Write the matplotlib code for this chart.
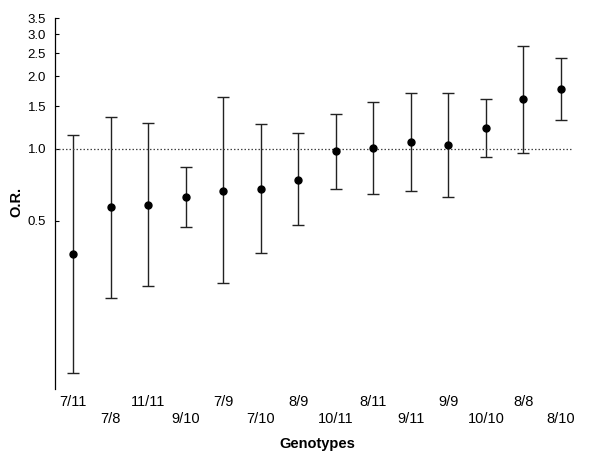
import matplotlib
matplotlib.use("Agg")
import matplotlib.pyplot as plt
import numpy as np

plt.rcParams['font.family'] = ['Liberation Sans', 'DejaVu Sans']

genotypes = ["7/11", "7/8", "11/11", "9/10", "7/9", "7/10", "8/9",
             "10/11", "8/11", "9/11", "9/9", "10/10", "8/8", "8/10"]
odds_ratio = [0.363, 0.571, 0.585, 0.630, 0.669, 0.676, 0.741,
              0.975, 1.006, 1.066, 1.039, 1.219, 1.603, 1.769]
ci_lower = [0.116, 0.238, 0.267, 0.474, 0.275, 0.366, 0.479,
            0.680, 0.648, 0.667, 0.632, 0.926, 0.960, 1.320]
ci_upper = [1.14, 1.36, 1.285, 0.839, 1.639, 1.262, 1.158,
            1.393, 1.567, 1.708, 1.713, 1.613, 2.686, 2.38]
ytick_vals = [0.5, 1.0, 1.5, 2.0, 2.5, 3.0, 3.5]

W, H = 600, 469
ax_left, ax_right, ax_top, ax_bottom = 54.5, 579.75, 18, 388.8
fig = plt.figure(figsize=(W/100, H/100), dpi=100)
ax = fig.add_axes([ax_left/W, 1-ax_bottom/H, (ax_right-ax_left)/W, (ax_bottom-ax_top)/H])

x = np.arange(len(genotypes))
y = np.array(odds_ratio)
yerr = np.array([y - np.array(ci_lower), np.array(ci_upper) - y])

ax.set_yscale('log')
ax.errorbar(x, y, yerr=yerr, fmt='o', color='black', ecolor='#222222',
            elinewidth=1.0, capsize=4.2, capthick=1.0, markersize=5)
ax.hlines(1.0, -0.5, 13.33, colors='#444444', linestyles=(0, (1.2, 1.6)), linewidth=0.9)

ax.set_ylim(0.1, 3.5)
ax.set_xlim(-0.5, 13.5)
ax.set_yticks(ytick_vals)
ax.set_yticklabels([f"{v:.1f}" for v in ytick_vals])
ax.yaxis.set_minor_locator(matplotlib.ticker.NullLocator())
ax.tick_params(axis='y', direction='in', length=3, width=0.8, labelsize=9.5, pad=6)

ax.set_xticks(x)
ax.set_xticklabels(genotypes)
ax.tick_params(axis='x', length=0, labelsize=10.5, pad=4.7)
for i, t in enumerate(ax.xaxis.get_major_ticks()):
    if i % 2 == 1:
        t.set_pad(16.9)

for s in ['top', 'right', 'bottom']:
    ax.spines[s].set_visible(False)
ax.spines['left'].set_linewidth(0.9)

fig.text(16/W, 1-202/H, "O.R.", fontsize=10.5, fontweight='bold',
         rotation=90, ha='center', va='center')
fig.text(317/W, 1-443.5/H, "Genotypes", fontsize=10.5, fontweight='bold',
         ha='center', va='center')

fig.savefig("out.png", dpi=100)
